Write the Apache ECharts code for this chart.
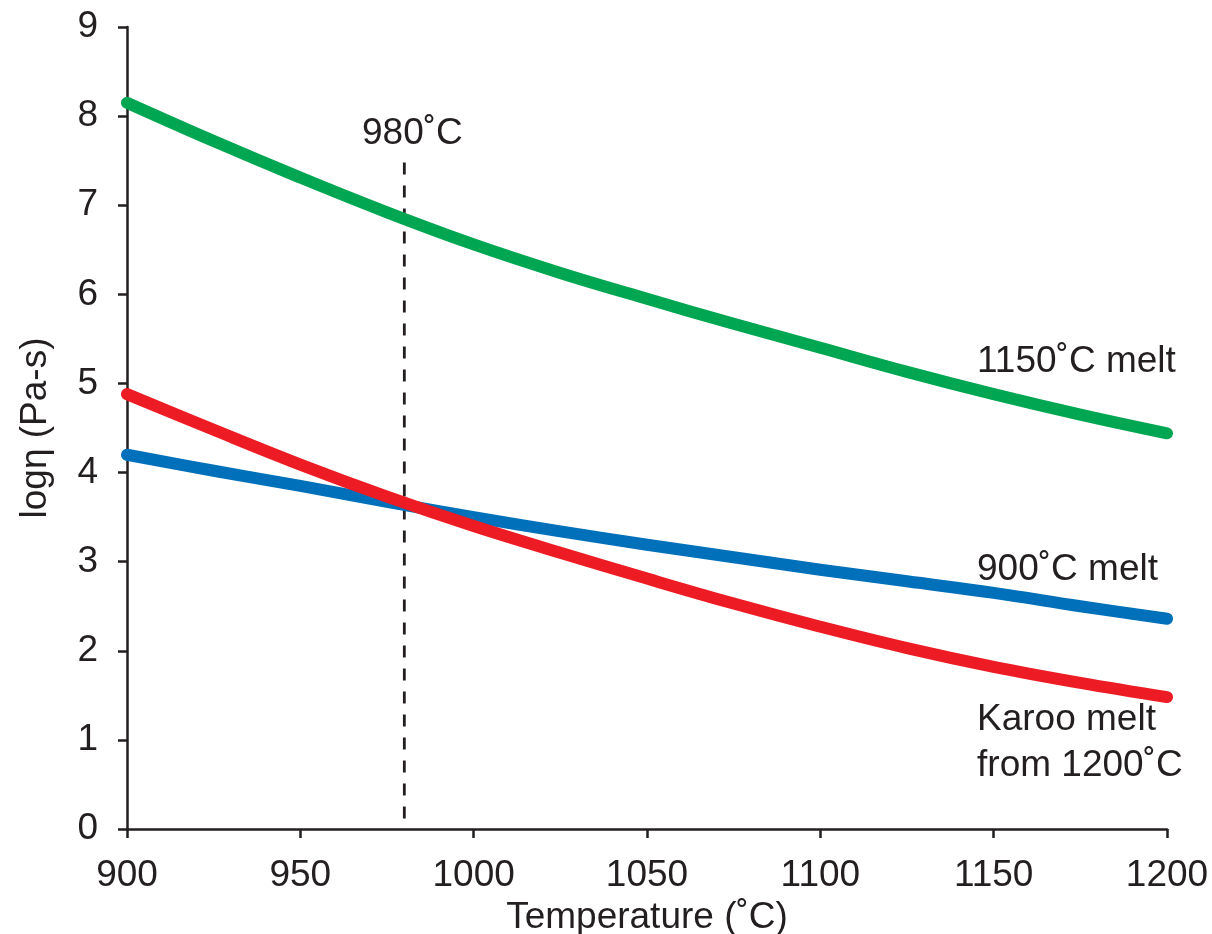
<!DOCTYPE html>
<html>
<head>
<meta charset="utf-8">
<script src="https://cdn.jsdelivr.net/npm/echarts@6/dist/echarts.min.js"></script>
<style>
  html, body { margin: 0; padding: 0; background: #ffffff; }
  #chart { width: 1212px; height: 934px; }
</style>
</head>
<body>
<div id="chart"></div>
<script>
// Melt viscosity (log Pa·s) versus temperature for three melts
const temperatures = [900, 925, 950, 975, 1000, 1025, 1050, 1075, 1100, 1125, 1150, 1175, 1200];
const melt1150 = [8.15, 7.72, 7.31, 6.92, 6.56, 6.24, 5.95, 5.67, 5.40, 5.13, 4.88, 4.65, 4.44];
const melt900  = [4.20, 4.02, 3.85, 3.67, 3.50, 3.34, 3.19, 3.05, 2.91, 2.78, 2.65, 2.50, 2.36];
const karoo    = [4.88, 4.48, 4.09, 3.73, 3.40, 3.10, 2.81, 2.53, 2.27, 2.03, 1.82, 1.64, 1.48];

// Reference temperature marker
const markerTemp = 980;
const markerTop = 7.48;

// Text annotations, anchored in data coordinates [temperature, logη]
const annotations = [
  { text: '980˚C', at: [967.8, 7.80] },
  { text: '1150˚C melt', at: [1145.2, 5.24] },
  { text: '900˚C melt', at: [1145.2, 2.91] },
  { text: 'Karoo melt\nfrom 1200˚C', at: [1145.2, 0.97] }
];

const ink = '#231F20';
const font = '"Liberation Sans", Arial, Helvetica, sans-serif';
const fs = 37;

const pairs = vals => temperatures.map((t, i) => [t, vals[i]]);

const chart = echarts.init(document.getElementById('chart'), null, { renderer: 'canvas' });

function curve(name, vals, color) {
  return {
    name, type: 'line', data: pairs(vals),
    smooth: 0.4, showSymbol: false, silent: true,
    lineStyle: { color, width: 12, cap: 'round', join: 'round' }
  };
}

chart.setOption({
  animation: false,
  backgroundColor: '#ffffff',
  grid: {
    left: 127, right: 45, top: 27, bottom: 105,
    containLabel: false, outerBoundsMode: 'none'
  },
  xAxis: {
    type: 'value', min: 900, max: 1200, interval: 50,
    name: 'Temperature (˚C)', nameLocation: 'middle', nameGap: 64,
    nameTextStyle: { color: ink, fontSize: fs, fontFamily: font },
    axisLine: { lineStyle: { color: ink, width: 2.5 } },
    axisTick: { show: true, inside: false, length: 9, lineStyle: { color: ink, width: 2.5 } },
    axisLabel: { color: ink, fontSize: fs, fontFamily: font, margin: 28, formatter: v => String(v) },
    splitLine: { show: false }
  },
  yAxis: {
    type: 'value', min: 0, max: 9, interval: 1,
    name: 'logη (Pa-s)', nameLocation: 'middle', nameGap: 73,
    nameTextStyle: { color: ink, fontSize: fs, fontFamily: font },
    axisLine: { show: true, lineStyle: { color: ink, width: 2.5 } },
    axisTick: { show: true, inside: false, length: 9, lineStyle: { color: ink, width: 2.5 } },
    axisLabel: { color: ink, fontSize: fs, fontFamily: font, margin: 29 },
    splitLine: { show: false }
  },
  series: [
    {
      name: 'marker', type: 'line', silent: true, showSymbol: false,
      data: [[markerTemp, markerTop], [markerTemp, 0]],
      lineStyle: { color: ink, width: 2.8, type: [12, 11] }
    },
    curve('1150˚C melt', melt1150, '#00A651'),
    curve('900˚C melt', melt900, '#0070BA'),
    curve('Karoo melt from 1200˚C', karoo, '#ED1C24')
  ]
});

// Place annotation text using the chart's own coordinate conversion
chart.setOption({
  graphic: annotations.map(a => {
    const p = chart.convertToPixel({ gridIndex: 0 }, a.at);
    return {
      type: 'text', x: p[0], y: p[1], silent: true,
      style: {
        text: a.text, fill: ink, fontSize: fs, fontFamily: font,
        lineHeight: 46, verticalAlign: 'middle', align: 'left'
      }
    };
  })
});
</script>
</body>
</html>
